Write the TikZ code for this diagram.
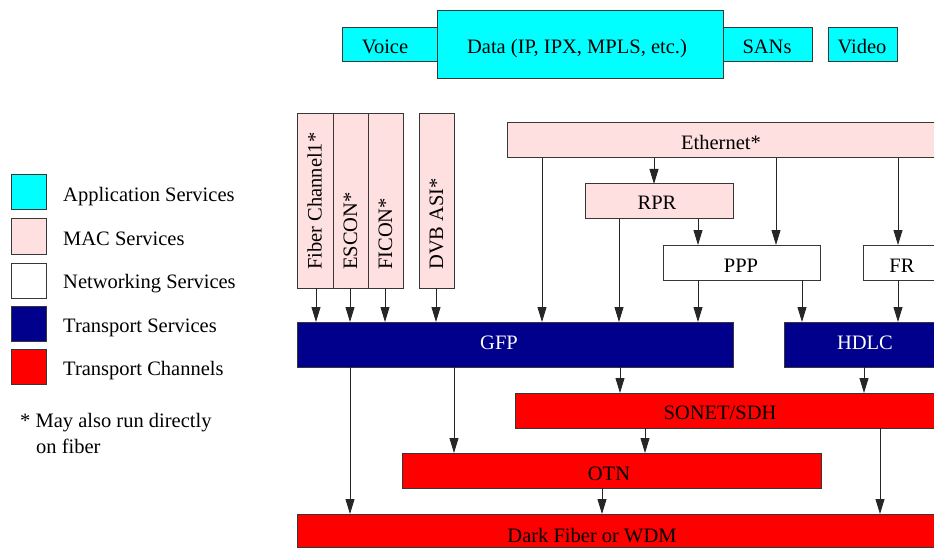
\documentclass[tikz,border=0pt]{standalone}
\usepackage{fontspec}
\setmainfont{Liberation Serif}
\usetikzlibrary{arrows.meta}
\definecolor{appc}{RGB}{0,255,255}
\definecolor{macc}{RGB}{255,224,224}
\definecolor{tsc}{RGB}{0,0,140}
\definecolor{tcc}{RGB}{255,0,0}
\definecolor{edgec}{RGB}{55,55,55}
\newcommand{\mybox}[6]{\node[box,fill=#6,minimum width={#4-#2},minimum height={#5-#3}] (#1) at ({(#2+#4)/2},{(#3+#5)/2}) {};}
\begin{document}
\begin{tikzpicture}[x=1pt,y=-1pt,
  box/.style={draw=edgec,line width=1pt,inner sep=0pt,outer sep=0pt,rectangle},
  txt/.style={font=\fontsize{20.5}{24}\selectfont,inner sep=0pt,anchor=base},
  ltxt/.style={txt,anchor=base west},
  vtxt/.style={txt,rotate=90,anchor=base west},
  arr/.style={draw=black!85,line width=0.9pt,-{Triangle[length=15pt,width=9pt]}},
]
\useasboundingbox (0,0) rectangle (934,548);
\clip (0,0) rectangle (934,548);

% application row
\mybox{voice}{342}{28}{437}{62}{appc}
\mybox{sans}{723}{28}{812}{62}{appc}
\mybox{data}{437}{11}{723}{79}{appc}
\mybox{video}{828}{28}{897}{62}{appc}
\node[txt] (voiceT) at (385,54) {Voice};
\node[txt] (dataT) at (577,54) {Data (IP, IPX, MPLS, etc.)};
\node[txt] (sansT) at (767,54) {SANs};
\node[txt] (videoT) at (862,54) {Video};

% legend
\mybox{lapp}{11}{175}{46}{210}{appc}
\mybox{lmac}{11}{219}{46}{254}{macc}
\mybox{lnet}{11}{263}{46}{298}{white}
\mybox{lts}{11}{306}{46}{341}{tsc}
\mybox{ltc}{11}{349}{46}{384}{tcc}
\node[ltxt] (lappT) at (63,202) {Application Services};
\node[ltxt] (lmacT) at (63,245) {MAC Services};
\node[ltxt] (lnetT) at (63,288) {Networking Services};
\node[ltxt] (ltsT) at (63,332) {Transport Services};
\node[ltxt] (ltcT) at (63,375) {Transport Channels};
\node[ltxt] (note1) at (20,427) {* May also run directly};
\node[ltxt] (note2) at (36,453) {on fiber};

% MAC services (vertical)
\mybox{fc}{297}{114}{333}{288}{macc}
\mybox{escon}{333}{114}{368}{288}{macc}
\mybox{ficon}{368}{114}{403}{288}{macc}
\mybox{dvb}{419}{114}{454}{288}{macc}
\node[vtxt] (fcT) at (321.5,270) {Fiber Channel1*};
\node[vtxt] (esconT) at (357,270) {ESCON*};
\node[vtxt] (ficonT) at (392,270) {FICON*};
\node[vtxt] (dvbT) at (443,270) {DVB ASI*};

% Ethernet, RPR, PPP, FR
\mybox{eth}{507}{123}{945}{158}{macc}
\mybox{rpr}{585}{184}{733}{219}{macc}
\mybox{ppp}{663}{245}{820}{280}{white}
\mybox{fr}{863}{245}{945}{280}{white}
\node[txt] (ethT) at (721,150) {Ethernet*};
\node[txt] (rprT) at (657,210) {RPR};
\node[txt] (pppT) at (741,272) {PPP};
\node[txt] (frT) at (902,272) {FR};

% transport services
\mybox{gfp}{297}{322}{733}{367}{tsc}
\mybox{hdlc}{784}{322}{945}{367}{tsc}
\node[txt,text=white] (gfpT) at (499,349) {GFP};
\node[txt,text=white] (hdlcT) at (865,349) {HDLC};

% transport channels
\mybox{sonet}{515}{393}{945}{428}{tcc}
\mybox{otn}{402}{453}{821}{488}{tcc}
\mybox{dark}{297}{514}{945}{547}{tcc}
\node[txt] (sonetT) at (720,419) {SONET/SDH};
\node[txt] (otnT) at (609,480) {OTN};
\node[txt] (darkT) at (592,542) {Dark Fiber or WDM};

% connectors
\draw[arr] (316,0 |- fc.south) -- (316,0 |- gfp.north);
\draw[arr] (350,0 |- escon.south) -- (350,0 |- gfp.north);
\draw[arr] (385,0 |- ficon.south) -- (385,0 |- gfp.north);
\draw[arr] (436,0 |- dvb.south) -- (436,0 |- gfp.north);
\draw[arr] (542,0 |- eth.south) -- (542,0 |- gfp.north);
\draw[arr] (654,0 |- eth.south) -- (654,0 |- rpr.north);
\draw[arr] (776,0 |- eth.south) -- (776,0 |- ppp.north);
\draw[arr] (898,0 |- eth.south) -- (898,0 |- fr.north);
\draw[arr] (619,0 |- rpr.south) -- (619,0 |- gfp.north);
\draw[arr] (698,0 |- rpr.south) -- (698,0 |- ppp.north);
\draw[arr] (698,0 |- ppp.south) -- (698,0 |- gfp.north);
\draw[arr] (802,0 |- ppp.south) -- (802,0 |- hdlc.north);
\draw[arr] (898,0 |- fr.south) -- (898,0 |- hdlc.north);
\draw[arr] (350,0 |- gfp.south) -- (350,0 |- dark.north);
\draw[arr] (454,0 |- gfp.south) -- (454,0 |- otn.north);
\draw[arr] (620,0 |- gfp.south) -- (620,0 |- sonet.north);
\draw[arr] (864,0 |- hdlc.south) -- (864,0 |- sonet.north);
\draw[arr] (645,0 |- sonet.south) -- (645,0 |- otn.north);
\draw[arr] (880,0 |- sonet.south) -- (880,0 |- dark.north);
\draw[arr] (602,0 |- otn.south) -- (602,0 |- dark.north);
\end{tikzpicture}
\end{document}
